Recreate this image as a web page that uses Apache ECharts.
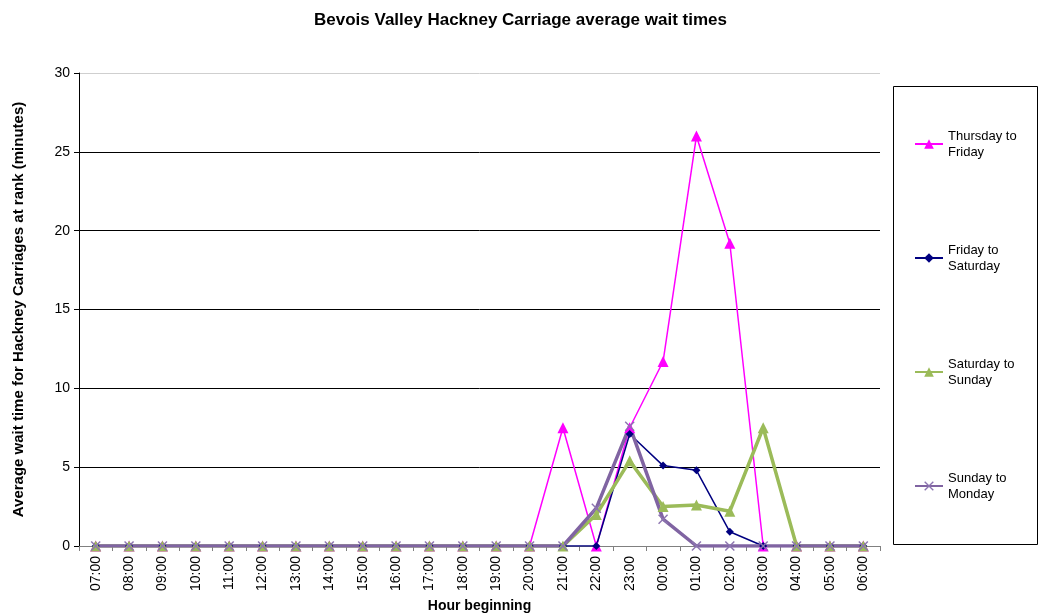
<!DOCTYPE html>
<html>
<head>
<meta charset="utf-8">
<script src="https://cdn.jsdelivr.net/npm/echarts@6/dist/echarts.min.js"></script>
<style>html,body{margin:0;padding:0;background:#fff}#c{width:1041px;height:613px}</style>
</head>
<body>
<div id="c"></div>
<script>
var categories = ['07:00','08:00','09:00','10:00','11:00','12:00','13:00','14:00','15:00','16:00','17:00','18:00','19:00','20:00','21:00','22:00','23:00','00:00','01:00','02:00','03:00','04:00','05:00','06:00'];
var thursdayToFriday = [0,0,0,0,0,0,0,0,0,0,0,0,0,0,7.5,0,7.5,11.7,26,19.2,0,0,0,0];
var fridayToSaturday = [0,0,0,0,0,0,0,0,0,0,0,0,0,0,0,0,7.1,5.1,4.8,0.9,0,0,0,0];
var saturdayToSunday = [0,0,0,0,0,0,0,0,0,0,0,0,0,0,0,2.0,5.4,2.5,2.6,2.2,7.5,0,0,0];
var sundayToMonday = [0,0,0,0,0,0,0,0,0,0,0,0,0,0,0,2.4,7.6,1.7,0,0,0,0,0,0];
var seriesNames = ['Thursday to Friday','Friday to Saturday','Saturday to Sunday','Sunday to Monday'];
var yTicks = [0,5,10,15,20,25,30];

var FONT = "'Liberation Sans', Arial, sans-serif";
var xSym = 'path://M0,1 L1,0 L5,4 L9,0 L10,1 L6,5 L10,9 L9,10 L5,6 L1,10 L0,9 L4,5 Z';

var chart = echarts.init(document.getElementById('c'), null, {renderer:'canvas'});
chart.setOption({
  animation: false,
  backgroundColor: '#fff',
  title: {
    text: 'Bevois Valley Hackney Carriage average wait times',
    left: 'center', top: 7,
    textStyle: {fontFamily: FONT, fontSize: 17, fontWeight: 'bold', color: '#000'}
  },
  grid: {left: 79, right: 161, top: 73, bottom: 67, outerBoundsMode: 'none', containLabel: false},
  graphic: [{
    type: 'rect', silent: true,
    shape: {x: 893.5, y: 86.5, width: 144, height: 458},
    style: {fill: 'none', stroke: '#000', lineWidth: 1}
  }],
  legend: {
    orient: 'vertical', left: 914, top: 120, padding: 0,
    itemGap: 66, itemWidth: 28, itemHeight: 12,
    data: seriesNames,
    formatter: function(n){ return n.replace(' to ', ' to\n'); },
    textStyle: {fontFamily: FONT, fontSize: 13, color: '#000', lineHeight: 16, padding: [16,0,0,0]}
  },
  xAxis: {
    type: 'category', data: categories, boundaryGap: true,
    name: 'Hour beginning', nameLocation: 'middle', nameGap: 51,
    nameTextStyle: {fontFamily: FONT, fontSize: 14, fontWeight: 'bold', color: '#000'},
    axisLine: {lineStyle: {color: '#808080', width: 1}},
    axisTick: {show: true, alignWithLabel: false, length: 5, lineStyle: {color: '#808080'}},
    axisLabel: {rotate: 90, fontFamily: FONT, fontSize: 14, color: '#000', margin: 10, interval: 0}
  },
  yAxis: {
    type: 'value', min: yTicks[0], max: yTicks[yTicks.length-1], interval: 5,
    name: 'Average wait time for Hackney Carriages at rank (minutes)',
    nameLocation: 'middle', nameGap: 53,
    nameTextStyle: {fontFamily: FONT, fontSize: 15, fontWeight: 'bold', color: '#000'},
    axisLine: {show: true, lineStyle: {color: '#000', width: 1}},
    axisTick: {show: true, length: 5, lineStyle: {color: '#000'}},
    axisLabel: {fontFamily: FONT, fontSize: 14, color: '#000', margin: 9},
    splitLine: {show: true, lineStyle: {color: ['#000','#000','#000','#000','#000','#000','#cfcfcf'], width: 1}}
  },
  series: [
    {name: seriesNames[0], type: 'line', data: thursdayToFriday, showAllSymbol: true,
     symbol: 'triangle', symbolSize: 11,
     lineStyle: {color: '#FF00FF', width: 1.5}, itemStyle: {color: '#FF00FF'}},
    {name: seriesNames[1], type: 'line', data: fridayToSaturday, showAllSymbol: true,
     symbol: 'diamond', symbolSize: 8,
     lineStyle: {color: '#000080', width: 1.5}, itemStyle: {color: '#000080'}},
    {name: seriesNames[2], type: 'line', data: saturdayToSunday, showAllSymbol: true,
     symbol: 'triangle', symbolSize: 11,
     lineStyle: {color: '#9BBB59', width: 3.5}, itemStyle: {color: '#9BBB59'}},
    {name: seriesNames[3], type: 'line', data: sundayToMonday, showAllSymbol: true,
     symbol: xSym, symbolSize: 10,
     lineStyle: {color: '#8064A2', width: 3.5}, itemStyle: {color: '#8C74B0'}}
  ]
});
</script>
</body>
</html>
